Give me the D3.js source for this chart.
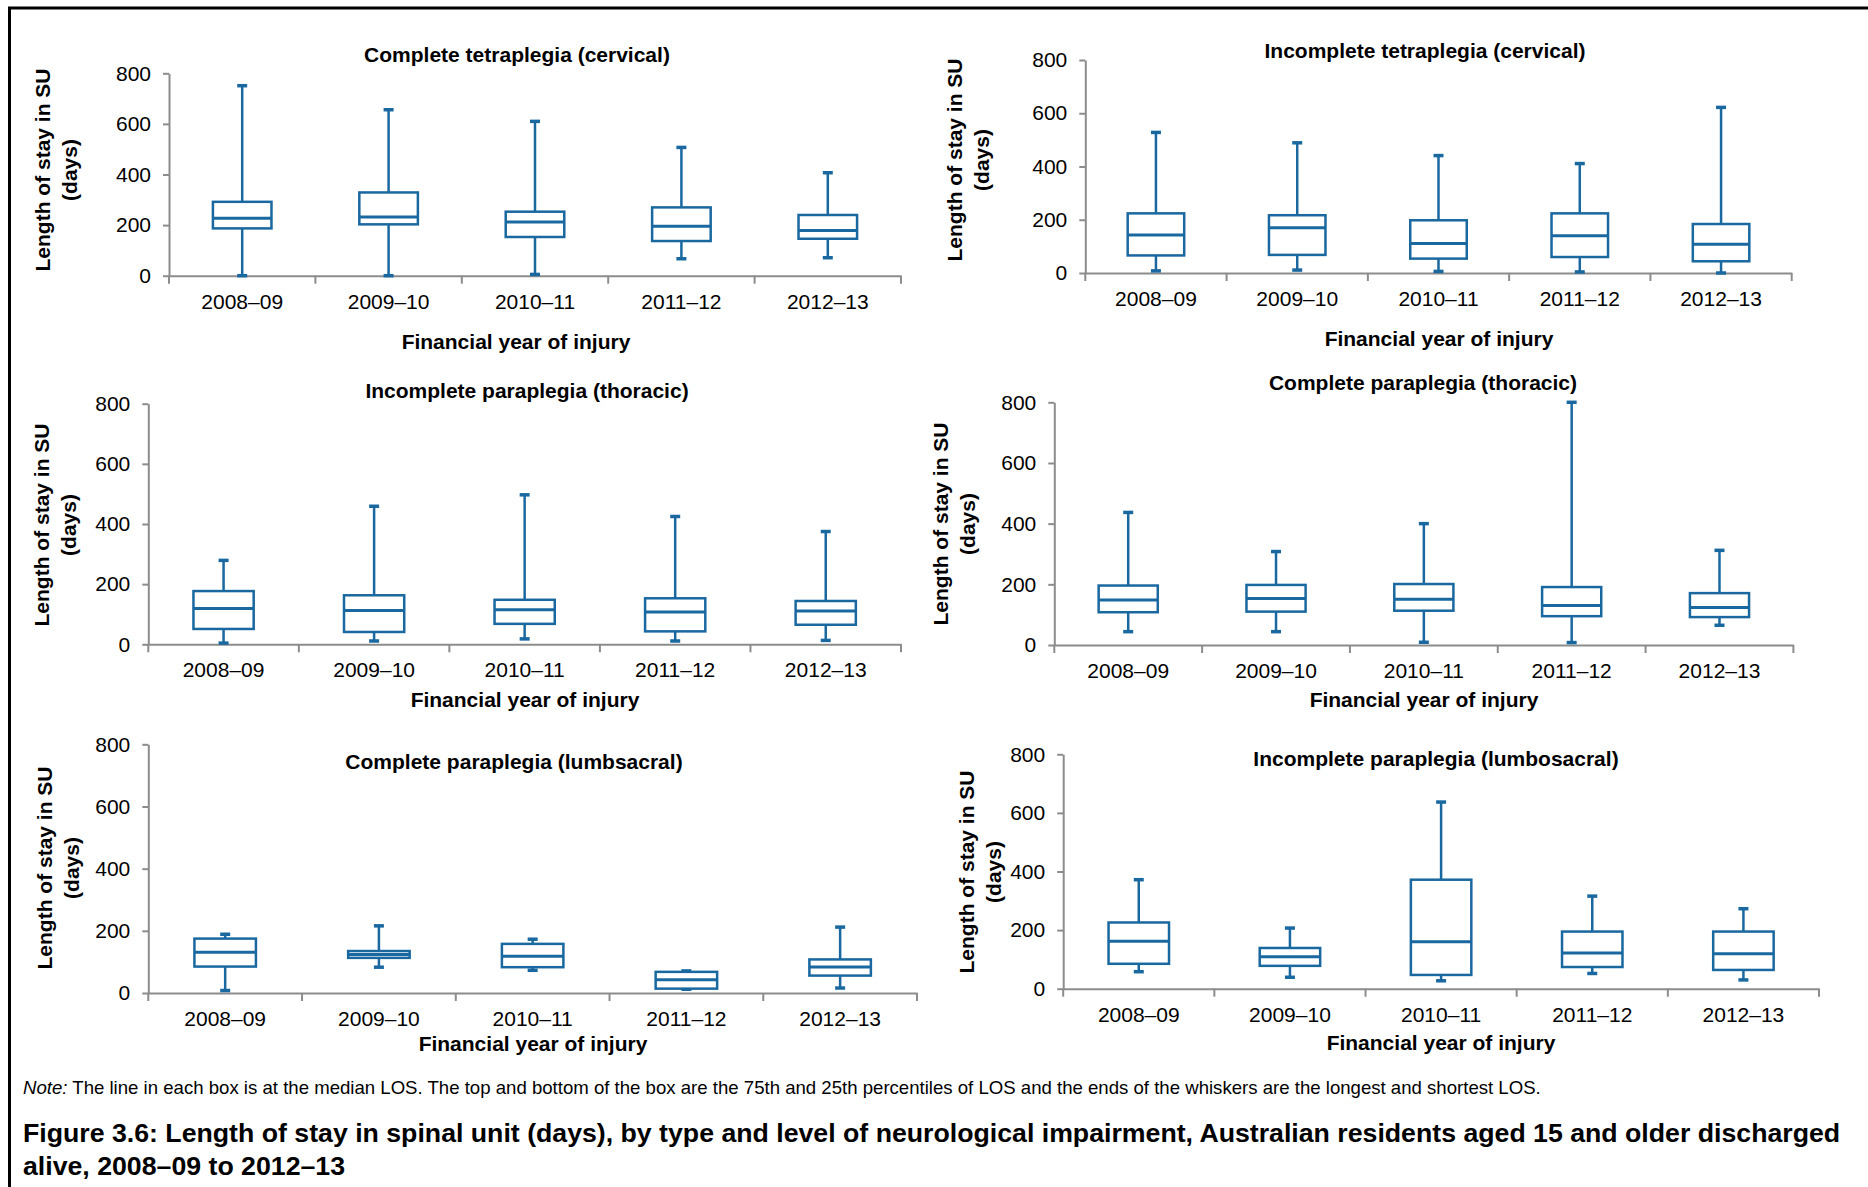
<!DOCTYPE html>
<html>
<head>
<meta charset="utf-8">
<script src="https://cdn.jsdelivr.net/npm/d3@7"></script>
<style>
  body { margin: 0; background: #fff; }
  svg text { font-family: "Liberation Sans", Arial, sans-serif; fill: #000; }
  .axis path, .axis line { stroke: #8c8c8c; stroke-width: 2; }
  .axis text { font-size: 21px; }
</style>
</head>
<body>
<svg id="fig" width="1868" height="1187"></svg>
<script>
// financial years on the x axis
var years = ["2008–09", "2009–10", "2010–11", "2011–12", "2012–13"];
var yTicks = [0, 200, 400, 600, 800];

// each row: [shortest, 25th pct, median, 75th pct, longest] LOS in days
var completeTetraplegia = [[0, 187, 227, 292, 751], [0, 203, 232, 329, 656], [5, 153, 212, 253, 610], [67, 137, 195, 270, 507], [71, 146, 179, 240, 407]];
var incompleteTetraplegia = [[8, 66, 143, 224, 528], [11, 68, 170, 217, 489], [6, 54, 111, 198, 441], [4, 60, 140, 224, 411], [0, 44, 108, 184, 622]];
var incompleteParaThoracic = [[4, 51, 119, 177, 279], [11, 41, 112, 163, 459], [18, 68, 115, 148, 497], [11, 43, 107, 153, 425], [13, 65, 111, 144, 375]];
var completeParaThoracic = [[44, 108, 148, 196, 437], [44, 110, 153, 198, 308], [9, 113, 151, 201, 400], [8, 95, 130, 191, 800], [65, 92, 124, 171, 312]];
var completeParaLumbar = [[8, 85, 131, 175, 189], [83, 113, 124, 135, 216], [73, 83, 118, 158, 173], [12, 14, 43, 68, 71], [16, 56, 84, 108, 212]];
var incompleteParaLumbar = [[58, 85, 162, 226, 372], [39, 78, 109, 139, 207], [27, 47, 160, 372, 637], [52, 74, 122, 195, 316], [30, 64, 119, 195, 273]];

var titles = ["Complete tetraplegia (cervical)", "Incomplete tetraplegia (cervical)",
  "Incomplete paraplegia (thoracic)", "Complete paraplegia (thoracic)",
  "Complete paraplegia (lumbsacral)", "Incomplete paraplegia (lumbosacral)"];

var blue = "#1a68a0";
var svg = d3.select("#fig");

// frame round the figure (top and left only)
svg.append("line").attr("x1", 8).attr("y1", 8).attr("x2", 1868).attr("y2", 8)
  .attr("stroke", "#000").attr("stroke-width", 3);
svg.append("line").attr("x1", 9.5).attr("y1", 7).attr("x2", 9.5).attr("y2", 1187)
  .attr("stroke", "#000").attr("stroke-width", 3);

// where each little chart sits on the page
var panels = [
  { data: completeTetraplegia, x0: 169, x1: 901, top: 73.3, bottom: 275.7, tx: 517, ty: 55, lx: 43, ly: 170, xt: 516, xty: 342 },
  { data: incompleteTetraplegia, x0: 1085.3, x1: 1791.7, top: 60, bottom: 273, tx: 1425, ty: 51, lx: 955, ly: 160, xt: 1439, xty: 339 },
  { data: incompleteParaThoracic, x0: 148.3, x1: 901, top: 403.7, bottom: 644.3, tx: 527, ty: 391, lx: 42, ly: 525, xt: 525, xty: 700 },
  { data: completeParaThoracic, x0: 1054.3, x1: 1793.4, top: 402.3, bottom: 645, tx: 1423, ty: 383, lx: 941, ly: 524, xt: 1424, xty: 700 },
  { data: completeParaLumbar, x0: 148.3, x1: 917, top: 744.3, bottom: 993, tx: 514, ty: 762, lx: 45, ly: 868, xt: 533, xty: 1044 },
  { data: incompleteParaLumbar, x0: 1063.2, x1: 1819, top: 754.3, bottom: 988.7, tx: 1436, ty: 759, lx: 967, ly: 872, xt: 1441, xty: 1043 }
];

panels.forEach(function (p, i) { drawPanel(p, titles[i]); });

function drawPanel(p, title) {
  var x = d3.scaleBand().domain(years).range([p.x0, p.x1]);
  var y = d3.scaleLinear().domain([0, 800]).range([p.bottom, p.top]);
  var g = svg.append("g");

  g.append("g").attr("class", "axis")
    .attr("transform", "translate(" + p.x0 + ",0)")
    .call(d3.axisLeft(y).tickValues(yTicks).tickSize(6).tickSizeOuter(0).tickPadding(12));

  var xa = g.append("g").attr("class", "axis")
    .attr("transform", "translate(0," + p.bottom + ")")
    .call(d3.axisBottom(x).tickSize(0).tickSizeOuter(0).tickPadding(18));
  // ticks sit between the categories
  var edges = years.map(function (d) { return x(d); }).concat([x(years[years.length - 1]) + x.bandwidth()]);
  xa.selectAll(".edge").data(edges).enter().append("line")
    .attr("x1", function (d) { return d; }).attr("x2", function (d) { return d; })
    .attr("y1", 0).attr("y2", 8);

  var bw = x.bandwidth() * 0.4, cap = 5;
  var box = g.selectAll(".box").data(p.data).enter().append("g")
    .attr("transform", function (d, i) { return "translate(" + (x(years[i]) + x.bandwidth() / 2) + ",0)"; });

  box.append("line").attr("x1", 0).attr("x2", 0)
    .attr("y1", function (d) { return y(d[4]); }).attr("y2", function (d) { return y(d[0]); })
    .attr("stroke", blue).attr("stroke-width", 2.5);
  box.append("line").attr("x1", -cap).attr("x2", cap)
    .attr("y1", function (d) { return y(d[4]); }).attr("y2", function (d) { return y(d[4]); })
    .attr("stroke", blue).attr("stroke-width", 3.5);
  box.append("line").attr("x1", -cap).attr("x2", cap)
    .attr("y1", function (d) { return y(d[0]); }).attr("y2", function (d) { return y(d[0]); })
    .attr("stroke", blue).attr("stroke-width", 3.5);
  box.append("rect").attr("x", -bw / 2).attr("width", bw)
    .attr("y", function (d) { return y(d[3]); })
    .attr("height", function (d) { return y(d[1]) - y(d[3]); })
    .attr("fill", "#fff").attr("stroke", blue).attr("stroke-width", 2.5);
  box.append("line").attr("x1", -bw / 2).attr("x2", bw / 2)
    .attr("y1", function (d) { return y(d[2]); }).attr("y2", function (d) { return y(d[2]); })
    .attr("stroke", blue).attr("stroke-width", 3);

  g.append("text").attr("x", p.tx).attr("y", p.ty).attr("dy", "0.35em")
    .attr("text-anchor", "middle").style("font-size", "21px").style("font-weight", "bold")
    .text(title);
  g.append("text").attr("x", p.xt).attr("y", p.xty).attr("dy", "0.35em")
    .attr("text-anchor", "middle").style("font-size", "21px").style("font-weight", "bold")
    .text("Financial year of injury");

  var yl = g.append("text").attr("transform", "translate(" + p.lx + "," + p.ly + ") rotate(-90)")
    .attr("text-anchor", "middle").style("font-size", "21px").style("font-weight", "bold");
  yl.append("tspan").attr("x", 0).attr("dy", "0.35em").text("Length of stay in SU");
  yl.append("tspan").attr("x", 0).attr("dy", "1.25em").text("(days)");
}

// note and figure caption
var note = svg.append("text").attr("x", 23).attr("y", 1094).style("font-size", "18.6px");
note.append("tspan").style("font-style", "italic").text("Note:");
note.append("tspan").text(" The line in each box is at the median LOS. The top and bottom of the box are the 75th and 25th percentiles of LOS and the ends of the whiskers are the longest and shortest LOS.");

var cap = svg.append("text").style("font-size", "26.7px").style("font-weight", "bold");
cap.append("tspan").attr("x", 23).attr("y", 1142)
  .text("Figure 3.6: Length of stay in spinal unit (days), by type and level of neurological impairment, Australian residents aged 15 and older discharged");
cap.append("tspan").attr("x", 23).attr("y", 1175).text("alive, 2008–09 to 2012–13");
</script>
</body>
</html>
